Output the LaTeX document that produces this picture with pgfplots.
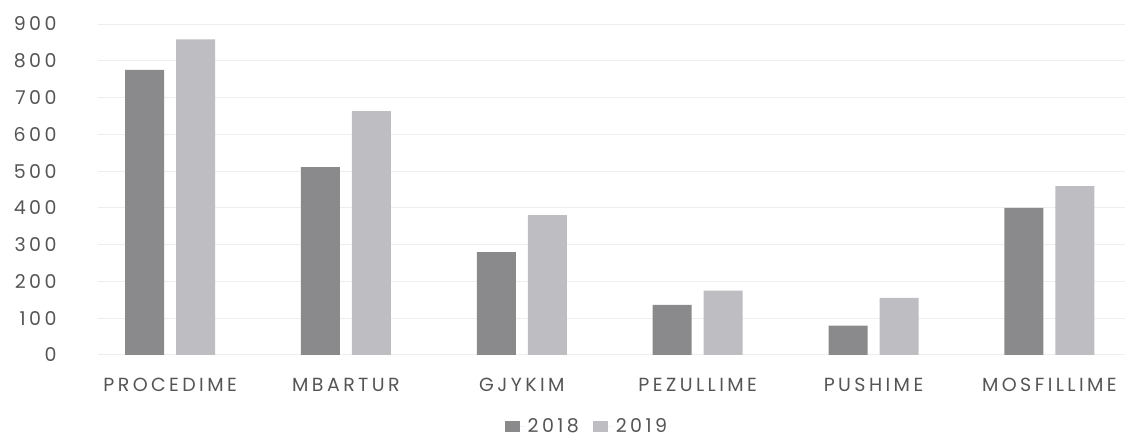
\documentclass[border=0pt]{standalone}
\usepackage{fontspec}
\setmainfont{Poppins}[LetterSpace=18]
\usepackage{pgfplots}
\pgfplotsset{compat=1.18}
\definecolor{darkbar}{HTML}{8A8A8D}
\definecolor{lightbar}{HTML}{BDBDC2}
\definecolor{txt}{HTML}{555555}
\definecolor{gridc}{HTML}{EEEEEE}

\begin{document}
\begin{tikzpicture}
\begin{axis}[
    at={(0,0)}, anchor=south west,
    scale only axis,
    width=1027pt, height=331pt,
    ybar=12pt, bar width=39pt,
    xmin=-0.41, xmax=5.43,
    ymin=0, ymax=900,
    xtick=data,
    xticklabels={PROCEDIME,MBARTUR,GJYKIM,PEZULLIME,PUSHIME,MOSFILLIME},
    ytick={0,100,...,900},
    axis line style={draw=none},
    major tick length=0pt,
    ymajorgrids=true,
    grid style={gridc, line width=1pt},
    tick label style={font=\fontsize{19}{21}\selectfont, text=txt},
    /pgf/number format/assume math mode=true,
    yticklabel style={xshift=-38pt},
    xticklabel style={yshift=-20pt},
    legend style={at={(0.476,-0.215)}, anchor=center, draw=none,
        font=\fontsize{19}{21}\selectfont, text=txt,
        legend columns=2, /tikz/every even column/.append style={column sep=12pt}},
    legend image code/.code={\fill[#1] (0pt,-5.5pt) rectangle (15pt,5.5pt);
        \path (15pt,0pt) -- (21pt,0pt);},
]
\addplot[fill=darkbar, draw=none] coordinates {(0,775) (1,511) (2,280) (3,136) (4,80) (5,400)};
\addplot[fill=lightbar, draw=none] coordinates {(0,858) (1,663) (2,380) (3,175) (4,155) (5,459)};
\legend{2018,2019}
\end{axis}
\pgfresetboundingbox
\path[use as bounding box] (-98pt,-86pt) rectangle (1027pt,355pt);
\end{tikzpicture}
\end{document}
